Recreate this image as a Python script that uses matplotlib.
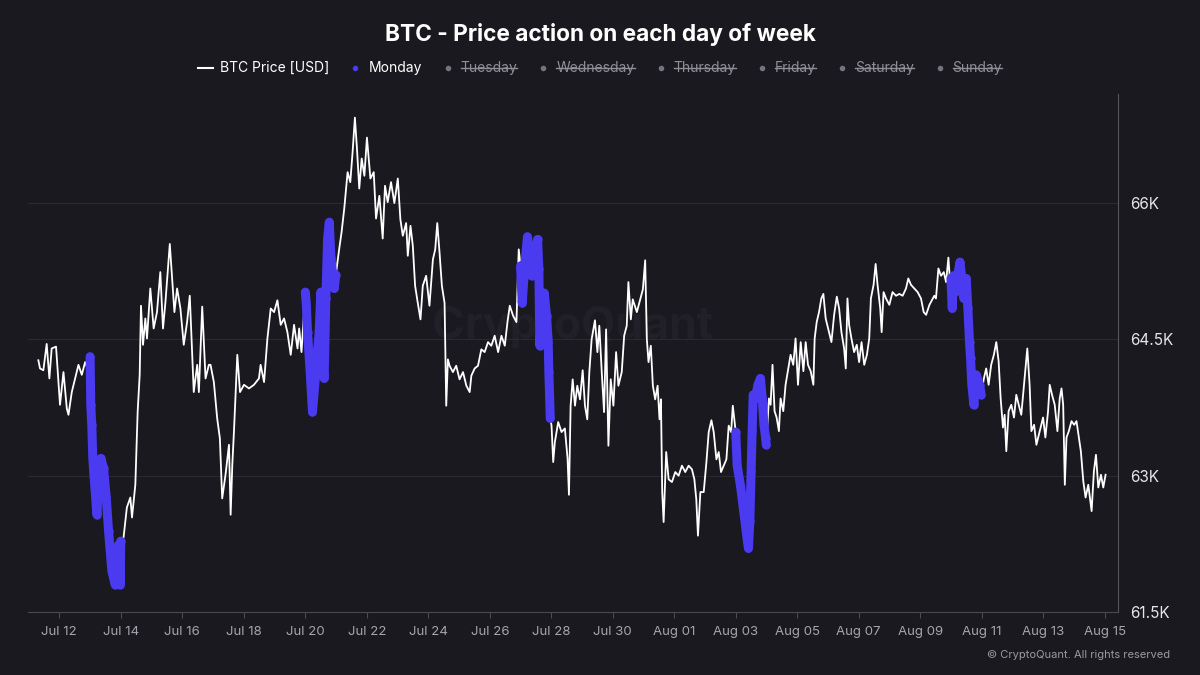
import matplotlib
matplotlib.use("Agg")
import matplotlib.pyplot as plt
from matplotlib.lines import Line2D
import pandas as pd

plt.rcParams['font.family'] = ['Inter', 'DejaVu Sans']

# hours since Jul 12 00:00, BTC price
hours = [
    -16.4, -15.1, -12.5, -9.9, -7.8, -6.0, -2.6, 0.5, 3.2, 5.8, 7.1, 9.7, 12.3, 14.9, 17.5, 20.1, 21.9,
    24.0, 24.5, 25.3, 26.1, 27.2, 29.3, 30.6, 32.4, 34.5, 36.6, 38.4, 41.0, 43.6, 46.2, 47.5, 47.9,
    50.1, 52.7, 55.4, 56.7, 59.3, 61.1, 62.7, 63.7, 65.3, 67.1, 68.4, 71.0, 73.6, 76.2, 78.8, 80.9,
    82.8, 86.2, 88.0, 89.8, 91.9, 94.5, 97.1, 99.7, 101.8, 104.9, 107.6, 108.9, 111.5, 114.1, 116.7,
    118.0, 120.6, 123.2, 125.3, 127.1, 129.7, 132.4, 133.7, 135.0, 136.3, 137.6, 138.9, 141.0, 144.1,
    148.0, 151.9, 155.8, 157.1, 159.8, 162.4, 165.0, 167.6, 170.2, 172.8, 175.4, 178.0, 180.6, 183.2,
    185.9, 187.2, 189.0,
    192.0, 192.8, 193.7, 195.8, 197.6, 200.2, 202.8, 204.1, 205.4, 206.7, 208.0, 209.4, 210.7, 212.0,
    214.6, 215.8,
    218.5, 220.3, 222.4, 225.0, 227.1, 228.9, 230.7, 232.3, 234.1, 236.0, 238.1, 240.1, 242.8, 245.4,
    247.2, 249.8, 252.4, 254.2, 256.3, 258.9, 261.5, 264.2, 266.2, 268.1, 270.7, 272.0, 274.1, 275.9,
    277.7, 279.8, 281.9, 283.7, 286.3, 288.9, 291.6, 293.4, 295.0, 296.8, 298.6, 300.7, 302.0, 303.3,
    304.6, 307.2, 309.8, 312.4, 315.1, 317.7, 320.3, 321.6, 324.2, 326.8, 329.4, 332.0, 334.6, 337.2,
    339.8, 342.5, 345.1, 347.7, 349.8, 351.6, 354.2, 356.8, 358.6,
    360.0, 361.3, 363.3, 365.4, 367.3, 368.6, 370.6, 373.3, 374.3, 375.1, 376.4, 378.5, 380.3, 381.6,
    382.1, 382.6, 383.2,
    384.2, 385.5, 386.8, 389.4, 392.0, 394.6, 396.7, 397.8, 399.1, 400.7, 402.5, 404.3, 406.4, 408.5,
    410.3, 412.1, 413.7, 415.5, 418.1, 420.0, 421.5, 423.4, 425.2, 426.8, 428.6, 430.4, 432.5, 434.6,
    436.4, 439.0, 440.9, 442.9, 444.2, 446.1, 447.6, 450.8, 453.4, 455.5, 457.3, 458.6, 459.9, 461.7,
    463.3, 465.1, 467.0, 468.5, 469.6, 470.6, 471.7, 473.7, 475.6, 478.2, 480.8, 483.4, 486.0, 488.6,
    491.2, 493.8, 495.7, 497.2, 498.5, 500.4, 503.0, 505.1, 506.9, 509.0, 510.8, 512.9, 514.7, 516.5,
    518.6, 520.7, 522.5, 524.4, 525.7,
    528.0, 529.1, 531.7, 534.3, 536.9, 537.9, 539.0, 540.0, 540.8, 541.6, 543.4, 545.3, 547.3, 548.7,
    550.0, 551.3, 551.8,
    553.9, 555.2, 556.7, 558.3, 559.9, 561.7, 563.0, 565.1, 566.9, 568.7, 570.8, 572.9, 574.7, 576.6,
    578.7, 580.8, 582.6, 584.4, 586.5, 588.6, 589.6, 591.2, 593.0, 594.8, 596.4, 598.2, 600.8, 602.7,
    604.8, 606.9, 608.7, 610.5, 612.6, 613.9, 615.2, 616.5, 618.3, 620.4, 622.5, 624.3, 626.2, 628.3,
    630.4, 632.2, 633.5, 635.6, 637.2, 638.7, 640.8, 641.9, 643.4, 645.3, 647.9, 650.4, 653.1, 655.7,
    658.3, 660.9, 662.7, 664.8, 667.4, 670.0, 672.6, 674.7, 676.6, 679.2, 681.8, 683.0, 684.3, 686.2,
    688.2, 690.4, 692.2, 694.0, 695.2,
    696.0, 697.0, 698.0, 699.1, 701.2, 703.0, 704.5, 706.0, 707.9, 709.2, 710.5, 711.3, 712.3, 713.9,
    715.7, 718.3, 719.6,
    721.7, 723.5, 725.4, 727.4, 729.5, 731.4, 733.2, 734.8, 736.6, 737.9, 739.2, 741.0, 743.1, 745.2,
    747.0, 748.9, 750.9, 753.5, 755.6, 757.4, 758.8, 760.9, 762.7, 765.3, 767.9, 769.7, 771.8, 773.1,
    774.9, 777.0, 779.1, 780.9, 782.3, 783.6, 784.9, 786.2, 788.0, 790.1, 792.2, 794.0, 795.9, 797.4,
    799.3, 801.1, 803.2, 805.8, 807.6, 809.2, 811.0, 813.1, 814.9, 816.7,
]
price = [
    64270, 64180, 64160, 64450, 64070, 64400, 64420, 63780, 64140, 63740, 63670, 63920, 64070, 64220, 64110, 64250, 64180,
    64310, 63780, 63560, 63190, 62970, 62570, 62970, 63190, 63080, 62760, 62390, 61950, 61800, 62240, 61800, 62280,
    62320, 62650, 62760, 62540, 62900, 63700, 64110, 64870, 64440, 64730, 64510, 65060, 64620, 64800, 65240, 64620,
    64910, 65550, 65170, 64800, 65060, 64840, 64440, 64690, 64980, 63920, 64220, 63920, 64860, 64070, 64220,
    64220, 64030, 63630, 63410, 62750, 63010, 63340, 62570, 63120, 63490, 63920, 64330, 63920, 64000,
    63960, 64000, 64070, 64220, 64030, 64510, 64840, 64800, 64930, 64660, 64730, 64580, 64330, 64660,
    64400, 64620, 64360,
    65020, 64880, 64580, 64140, 63700, 64140, 64580, 65020, 64250, 64070, 64950, 65610, 65790, 65390,
    65060, 65210,
    65500, 65680, 65940, 66340, 66230, 66560, 66940, 66600, 66160, 66490, 66300, 66720, 66270, 66340,
    65830, 66080, 65610, 66190, 66010, 66230, 66000, 66270, 65820, 65640, 65780, 65420, 65750, 65530,
    65090, 64900, 64720, 65090, 65200, 64870, 65380, 65490, 65780, 65450, 65090, 64900, 63770, 64280,
    64210, 64140, 64210, 64060, 64140, 63990, 63920, 64100, 64180, 64210, 64390, 64360, 64470, 64430,
    64540, 64360, 64540, 64430, 64690, 64870, 64760, 64690, 65490,
    65310, 64900, 65310, 65630, 65380, 65200, 65380, 65600, 65270, 64430, 64830, 65010, 64760, 64470,
    64140, 63920, 63630,
    63550, 63150, 63370, 63590, 63480, 63520, 63190, 62790, 63770, 64060, 63770, 63990, 63840, 64160,
    63770, 63620, 64140, 64500, 64710, 64360, 64650, 64140, 63700, 64610, 63330, 64060, 63770, 64360,
    63990, 64140, 64540, 64650, 65130, 64720, 64940, 64800, 64940, 65050, 65370, 64500, 64250, 64430,
    63990, 63840, 63990, 63620, 63840, 62820, 62490, 63260, 62960, 62930, 63040, 63000, 63110, 63040,
    63110, 63070, 62960, 62740, 62340, 62820, 62820, 63150, 63480, 63610, 63480, 63180, 63260, 63040,
    63110, 63180, 63550, 63480, 63770,
    63480, 63110, 62890, 62600, 62300, 62200, 62500, 63050, 63490, 63890, 63850, 64000, 64070, 63850,
    63560, 63420, 63340,
    63850, 63780, 64220, 63710, 63640, 63490, 63850, 63710, 64000, 64150, 64330, 64220, 64510, 64000,
    64470, 64150, 64470, 64220, 64150, 64000, 64510, 64690, 64800, 64950, 65000, 64730, 64580, 64470,
    64770, 64970, 64840, 64580, 64400, 64180, 64950, 64660, 64510, 64360, 64440, 64250, 64470, 64220,
    64330, 64510, 64950, 65100, 65330, 65100, 64840, 64580, 65020, 64950, 64880, 65020, 64980, 65000,
    64980, 65060, 65170, 65100, 65060, 65020, 64950, 64800, 64770, 64880, 64950, 64980, 64950, 65280,
    65200, 65240, 65130, 65400, 65150,
    65170, 64840, 65200, 65020, 65200, 65350, 65170, 64950, 65170, 64840, 64470, 64290, 64000, 63780,
    64110, 64000, 63890,
    64070, 64180, 64000, 64220, 64330, 64470, 64260, 63850, 63530, 63670, 63270, 63710, 63780, 63640,
    63890, 63780, 63670, 64070, 64400, 64000, 63490, 63560, 63340, 63490, 63640, 63420, 63710, 64000,
    63890, 63780, 63490, 63850, 63960, 63780, 62900, 63420, 63490, 63600, 63560, 63600, 63420, 63270,
    62940, 62760, 62900, 62610, 63050, 63230, 62870, 63010, 62870, 63010,
]

y_ticks = [61500, 63000, 64500, 66000]
y_labels = ["61.5K", "63K", "64.5K", "66K"]
day_names = ["Monday", "Tuesday", "Wednesday", "Thursday", "Friday", "Saturday", "Sunday"]

start = pd.Timestamp("2020-07-12")
btc = pd.Series(price, index=start + pd.to_timedelta(hours, unit="h"))
monday = btc[btc.index.dayofweek == 0]

BG = "#1a191f"
BLUE = "#4a3af0"
GREY = "#8e8e96"
W, H = 1200, 675

fig = plt.figure(figsize=(12, 6.75), dpi=100, facecolor=BG)
ax = fig.add_axes([27.6 / W, 1 - 612 / H, (1118 - 27.6) / W, (612 - 94) / H], facecolor=BG)

ax.plot(btc.index, btc.values, color="white", lw=1.3, zorder=3)
for d, grp in monday.groupby(monday.index.date):
    ax.plot(grp.index, grp.values, color=BLUE, lw=6.5, solid_capstyle="round",
            solid_joinstyle="round", zorder=4)
    ax.plot(grp.index, grp.values, "o", color=BLUE, ms=6, mec="none", zorder=4)

ax.set_xlim(start - pd.Timedelta(hours=24.8), start + pd.Timedelta(hours=826.4))
ax.set_ylim(61500, 67200)

xt = pd.date_range("2020-07-12", "2020-08-15", freq="2D")
ax.set_xticks(xt)
ax.set_xticklabels([d.strftime("%b %d") for d in xt])
ax.tick_params(axis="x", colors="#4a4950", labelcolor="#a5a5ad", labelsize=9.5, length=4, pad=6)

ax.yaxis.tick_right()
ax.set_yticks(y_ticks)
ax.set_yticklabels(y_labels)
ax.tick_params(axis="y", length=0, labelcolor="#e6e6ea", labelsize=11, pad=9)
ax.grid(axis="y", color="#2b2a31", lw=0.8, zorder=0)

for s in ["left", "top"]:
    ax.spines[s].set_visible(False)
ax.spines["bottom"].set_color("#4a4950")
ax.spines["right"].set_color("#55545b")

# watermark
ax.text(0.5, 0.55, "CryptoQuant", transform=ax.transAxes, ha="center", va="center",
        fontsize=32, weight="bold", color="#211f27", zorder=1)

fig.text(0.5, 1 - 35 / H, "BTC - Price action on each day of week", ha="center", va="center",
         fontsize=16.3, weight="bold", color="white")
fig.text(1170 / W, 1 - 655 / H, "\u00a9 CryptoQuant. All rights reserved", ha="right", va="center",
         fontsize=8, color="#9a9aa2")

# legend row
leg_y = 1 - 68 / H
items = [("BTC Price [USD]", "line", "white", "white", False),
         ("Monday", "dot", BLUE, "white", False)]
items += [(d, "dot", "#74747c", GREY, True) for d in day_names[1:]]
texts = [fig.text(0, leg_y, it[0], color=it[3], fontsize=10, va="center", ha="left") for it in items]
fig.canvas.draw()
r = fig.canvas.get_renderer()
widths = [t.get_window_extent(r).width for t in texts]
leads = [22 if it[1] == "line" else 13 for it in items]
total = sum(leads) + sum(widths) + 26 * (len(items) - 1)
x0 = W / 2 - total / 2
for it, t, w, lead in zip(items, texts, widths, leads):
    label, kind, mcol, tcol, struck = it
    if kind == "line":
        fig.add_artist(Line2D([x0 / W, (x0 + 15) / W], [leg_y, leg_y], color=mcol, lw=1.5))
    else:
        fig.add_artist(Line2D([x0 / W], [leg_y], marker="o", ms=4, color=mcol, mec="none"))
    t.set_x((x0 + lead) / W)
    if struck:
        fig.add_artist(Line2D([(x0 + lead) / W, (x0 + lead + w) / W], [leg_y, leg_y], color=GREY, lw=1))
    x0 += lead + w + 26

fig.savefig("out.png", dpi=100, facecolor=BG)
